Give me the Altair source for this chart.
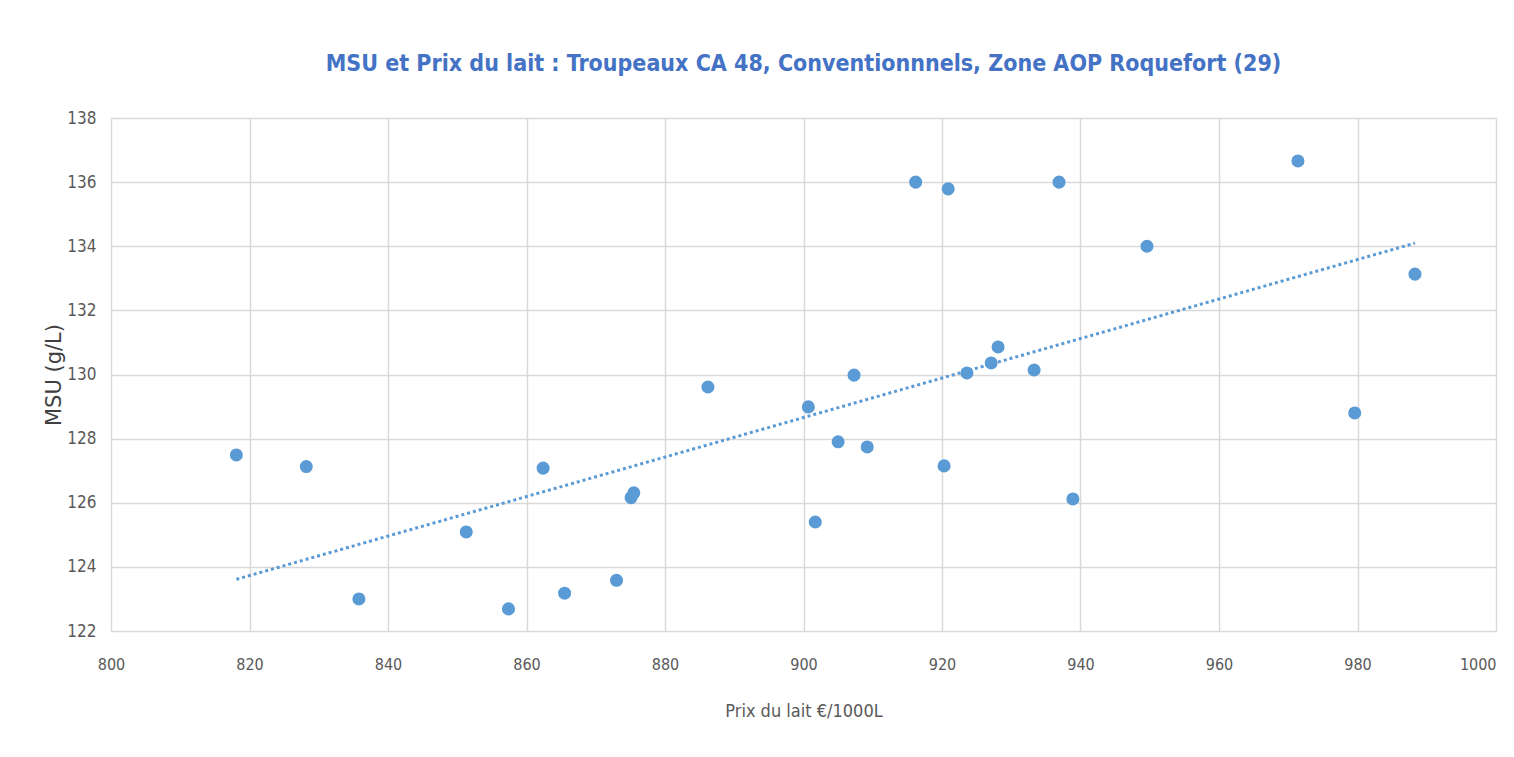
import altair as alt
import pandas as pd

prix = [818.1, 828.2, 835.8, 851.3, 857.4, 862.4, 865.5, 873.0, 875.1, 875.5,
        886.2, 900.7, 901.7, 905.0, 907.3, 909.2, 916.2, 920.3, 920.9, 923.6,
        927.1, 928.1, 933.3, 936.9, 938.9, 949.6, 971.4, 979.6, 988.3]
msu = [127.49, 127.13, 123.0, 125.09, 122.69, 127.08, 123.18, 123.58, 126.16, 126.31,
       129.61, 128.99, 125.4, 127.9, 129.98, 127.74, 136.0, 127.15, 135.79, 130.05,
       130.36, 130.86, 130.14, 136.0, 126.12, 134.0, 136.66, 128.8, 133.13]

x_ticks = list(range(800, 1001, 20))
y_ticks = list(range(122, 139, 2))

df = pd.DataFrame({"prix": prix, "msu": msu})

BLUE = "#5B9BD5"
LABEL_FONT = "DejaVu Sans Condensed, Liberation Sans, sans-serif"

x_enc = alt.X("prix:Q", scale=alt.Scale(domain=[800, 1000], nice=False, zero=False),
              axis=alt.Axis(values=x_ticks, format="d", title="Prix du lait €/1000L", grid=True,
                            gridColor="#d9d9d9", gridWidth=1.5, domain=False, ticks=False,
                            labelFlush=False,
                            labelAlign=alt.expr("datum.value >= 1000 ? 'right' : 'center'"),
                            labelFont=LABEL_FONT, labelFontSize=16, labelColor="#595959",
                            labelPadding=25, titleFont=LABEL_FONT, titleFontSize=18,
                            titleFontWeight="normal", titleColor="#595959", titlePadding=30))
y_enc = alt.Y("msu:Q", scale=alt.Scale(domain=[122, 138], nice=False, zero=False),
              axis=alt.Axis(values=y_ticks, title="MSU (g/L)", grid=True,
                            gridColor="#d9d9d9", gridWidth=1.5, domain=False, ticks=False,
                            labelFlush=False,
                            labelFont=LABEL_FONT, labelFontSize=17, labelColor="#595959",
                            labelPadding=15, titleFont="DejaVu Sans", titleFontSize=21,
                            titleFontWeight="normal", titleColor="#404040", titlePadding=2))

points = alt.Chart(df).mark_point(filled=True, size=170, color=BLUE, opacity=1, shape="circle").encode(
    x=x_enc, y=y_enc)

trend = alt.Chart(df).transform_regression("prix", "msu").mark_line(
    color=BLUE, strokeWidth=3, strokeDash=[3, 3]).encode(x="prix:Q", y="msu:Q")

chart = alt.layer(trend, points).properties(
    width=1385, height=513,
    title=alt.TitleParams("MSU et Prix du lait : Troupeaux CA 48, Conventionnnels, Zone AOP Roquefort (29)",
                          font="DejaVu Sans Condensed, Liberation Sans, sans-serif", fontSize=23,
                          fontWeight="bold", color="#4472C4", anchor="middle", offset=33),
    autosize=alt.AutoSizeParams(type="none"),
    padding={"left": 103, "top": 110, "right": 10, "bottom": 110},
).configure_view(stroke=None)

chart.save("out.html", embed_options={"renderer": "svg", "actions": False})
